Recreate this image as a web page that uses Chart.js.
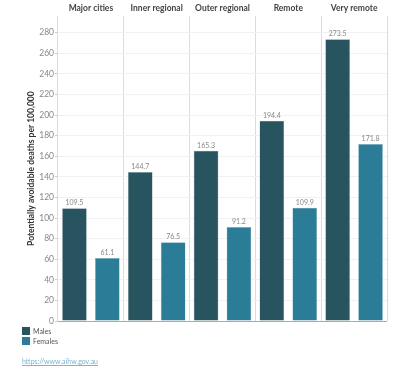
<!DOCTYPE html>
<html>
<head>
<meta charset="utf-8">
<script src="https://cdn.jsdelivr.net/npm/chart.js@4/dist/chart.umd.min.js"></script>
<style>
body { margin: 0; background: #fff; font-family: Lato, sans-serif; }
#wrap { position: relative; width: 399px; height: 369px; }
#legend { position: absolute; left: 22px; top: 326px; font-size: 7px; color: #555; }
.item { display: flex; align-items: center; height: 10px; }
.sw { width: 8px; height: 8px; margin-right: 3px; }
#src { position: absolute; left: 22px; top: 357px; font-size: 7px; color: #7ab4cf; text-decoration: underline; }
</style>
</head>
<body>
<div id="wrap">
  <canvas id="deathsChart" width="399" height="369"></canvas>
  <div id="legend"></div>
  <div id="src">https://www.aihw.gov.au</div>
</div>
<script>
var regions = ["Major cities", "Inner regional", "Outer regional", "Remote", "Very remote"];
var males = [109.5, 144.7, 165.3, 194.4, 273.5];
var females = [61.1, 76.5, 91.2, 109.9, 171.8];
var yTicks = [0, 20, 40, 60, 80, 100, 120, 140, 160, 180, 200, 220, 240, 260, 280];
var seriesNames = ["Males", "Females"];
var seriesColors = ["#27545f", "#2b7c97"];

// value labels above each bar
var valueLabels = {
    id: "valueLabels",
    afterDatasetsDraw: function (chart) {
        var ctx = chart.ctx;
        ctx.save();
        ctx.font = "7px Lato";
        ctx.fillStyle = "#888";
        ctx.textAlign = "center";
        ctx.textBaseline = "bottom";
        chart.data.datasets.forEach(function (ds, i) {
            chart.getDatasetMeta(i).data.forEach(function (bar, j) {
                ctx.fillText(ds.data[j].toFixed(1), bar.x, bar.y - 2);
            });
        });
        ctx.restore();
    }
};

var ctx = document.getElementById("deathsChart").getContext("2d");
var chart = new Chart(ctx, {
    type: "bar",
    data: {
        labels: regions,
        datasets: [
            { label: seriesNames[0], data: males, backgroundColor: seriesColors[0], borderColor: "#8fa6ad", borderWidth: 0.5 },
            { label: seriesNames[1], data: females, backgroundColor: seriesColors[1], borderColor: "#8fb9c8", borderWidth: 0.5 }
        ]
    },
    options: {
        responsive: false,
        animation: false,
        layout: { padding: { left: 26, right: 12, top: 0, bottom: 48 } },
        datasets: { bar: { categoryPercentage: 1, barPercentage: 0.75 } },
        plugins: { legend: { display: false }, tooltip: { enabled: false } },
        scales: {
            x: {
                position: "top",
                grid: { offset: true, color: "#dcdcdc", drawTicks: false },
                border: { display: false },
                ticks: { font: { family: "Lato", size: 8.5, weight: "bold" }, color: "#444", padding: 3 }
            },
            y: {
                min: 0,
                max: 296,
                afterBuildTicks: function (axis) {
                    axis.ticks = yTicks.map(function (v) { return { value: v }; });
                },
                grid: {
                    color: function (c) { return c.tick && c.tick.value === 0 ? "#aaa" : "#f1f1f1"; },
                    tickLength: 3,
                    tickColor: "#ccc"
                },
                border: { color: "#dcdcdc" },
                ticks: { font: { family: "Lato", size: 8.5 }, color: "#888", padding: 1 },
                title: {
                    display: true,
                    text: "Potentially avoidable deaths per 100,000",
                    font: { family: "Lato", size: 8.5, weight: "bold" },
                    color: "#333",
                    padding: { top: 0, bottom: 2 }
                }
            }
        }
    },
    plugins: [valueLabels]
});

// legend
var legend = document.getElementById("legend");
seriesNames.forEach(function (name, i) {
    var item = document.createElement("div");
    item.className = "item";
    item.innerHTML = '<span class="sw" style="background:' + seriesColors[i] + '"></span>' + name;
    legend.appendChild(item);
});
</script>
</body>
</html>
